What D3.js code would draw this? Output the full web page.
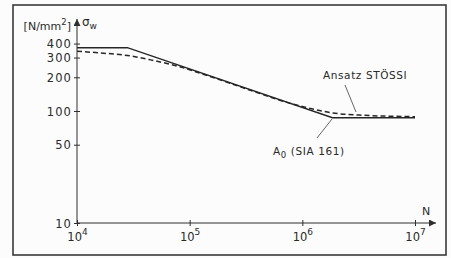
<!DOCTYPE html>
<html><head><meta charset="utf-8">
<script src="https://cdn.jsdelivr.net/npm/d3@7"></script>
<style>
html,body{margin:0;padding:0;background:#fcfcfc;}
svg{display:block;}
text{font-family:"DejaVu Sans",sans-serif;fill:#2a2a2a;}
</style></head><body>
<svg id="c" width="451" height="258"></svg>
<script>
// Data
const sia161N = [1e4, 2.8e4, 1.85e6, 1e7];
const sia161S = [368, 368, 87, 87];
const stuessiN = [1e4, 1.6e4, 2.8e4, 4.5e4, 7.4e4, 1.5e5, 3.4e5, 7.8e5, 1.3e6, 1.86e6, 3.2e6, 1e7];
const stuessiS = [342, 330, 313, 286, 255, 204, 154, 117, 103, 96, 92, 89];
const yTicks = [10, 50, 100, 200, 300, 400];
const xTicks = [1e4, 1e5, 1e6, 1e7];
const xTickExp = ["4", "5", "6", "7"];

const svg = d3.select("#c");
const ink = "#2e2e2e";

// frame
svg.append("rect").attr("x", 13).attr("y", 5).attr("width", 433).attr("height", 250)
  .attr("fill", "#fcfcfc").attr("stroke", "#3a3a3a").attr("stroke-width", 1.6);

const x = d3.scaleLog().domain([1e4, 1e7]).range([77, 415]);
const y = d3.scaleLog().domain([10, 100]).range([223, 111]);

// arrow markers
const defs = svg.append("defs");
defs.append("marker").attr("id", "arr").attr("viewBox", "0 0 10 10")
  .attr("refX", 10).attr("refY", 5).attr("markerWidth", 9).attr("markerHeight", 7)
  .attr("markerUnits", "userSpaceOnUse").attr("orient", "auto")
  .append("path").attr("d", "M0,0L10,5L0,10Z").attr("fill", ink);

// y axis
const gy = svg.append("g").attr("transform", `translate(${x(1e4)},0)`)
  .call(d3.axisLeft(y).tickValues(yTicks).tickFormat(d3.format("d")).tickSize(3).tickPadding(4));
gy.select(".domain").remove();
gy.selectAll(".tick line").attr("x1", -3).attr("x2", 3).attr("stroke", ink);
gy.selectAll(".tick text").attr("font-size", 11.5).attr("letter-spacing", "1.1px")
  .attr("fill", "#2a2a2a").attr("dy", "0.36em").attr("x", -5);
svg.append("line").attr("x1", x(1e4)).attr("x2", x(1e4)).attr("y1", y(10)).attr("y2", 19)
  .attr("stroke", ink).attr("stroke-width", 1).attr("marker-end", "url(#arr)");

// x axis
const gx = svg.append("g").attr("transform", `translate(0,${y(10)})`)
  .call(d3.axisBottom(x).tickValues(xTicks).tickFormat(() => "").tickSize(3));
gx.select(".domain").remove();
gx.selectAll(".tick line").attr("y1", -3).attr("y2", 3).attr("stroke", ink);
gx.selectAll(".tick text").each(function(d, i) {
  const t = d3.select(this).attr("y", 18).attr("font-size", 11.5).attr("text-anchor", "middle").attr("dy", null).attr("x", 0);
  t.append("tspan").text("10");
  t.append("tspan").attr("dy", -6).attr("font-size", 9).text(xTickExp[i]);
});
svg.append("line").attr("x1", x(1e4)).attr("x2", 436).attr("y1", y(10)).attr("y2", y(10))
  .attr("stroke", ink).attr("stroke-width", 1).attr("marker-end", "url(#arr)");

// axis labels
const yl = svg.append("text").attr("x", 71).attr("y", 30).attr("text-anchor", "end").attr("font-size", 11);
yl.append("tspan").text("[N/mm");
yl.append("tspan").attr("dy", -5).attr("font-size", 8.5).text("2");
yl.append("tspan").attr("dy", 5).text("]");
const sl = svg.append("text").attr("x", 82).attr("y", 26).attr("font-size", 12);
sl.append("tspan").text("σ");
sl.append("tspan").attr("dy", 3).attr("font-size", 9).text("w");
svg.append("text").attr("x", 422).attr("y", 215).attr("font-size", 11).text("N");

// lines
const lineGen = d3.line().x(d => x(d[0])).y(d => y(d[1]));
svg.append("path").datum(sia161N.map((n, i) => [n, sia161S[i]]))
  .attr("d", lineGen).attr("fill", "none").attr("stroke", "#262626").attr("stroke-width", 1.5);
svg.append("path").datum(stuessiN.map((n, i) => [n, stuessiS[i]]))
  .attr("d", lineGen.curve(d3.curveMonotoneX)).attr("fill", "none").attr("stroke", "#262626")
  .attr("stroke-width", 1.5).attr("stroke-dasharray", "5,3");

// annotations
svg.append("text").attr("x", 323).attr("y", 79).attr("font-size", 10.5).attr("letter-spacing", "0.6px").text("Ansatz  STÖSSI");
svg.append("line").attr("x1", 345).attr("y1", 85).attr("x2", 356).attr("y2", 112).attr("stroke", "#555").attr("stroke-width", 0.9);
const al = svg.append("text").attr("x", 273).attr("y", 155).attr("font-size", 10.5).attr("letter-spacing", "0.6px");
al.append("tspan").text("A");
al.append("tspan").attr("dy", 3).attr("font-size", 8.5).text("0");
al.append("tspan").attr("dy", -3).text(" (SIA 161)");
svg.append("line").attr("x1", 317).attr("y1", 138).attr("x2", 332).attr("y2", 119).attr("stroke", "#555").attr("stroke-width", 0.9);
</script></body></html>
